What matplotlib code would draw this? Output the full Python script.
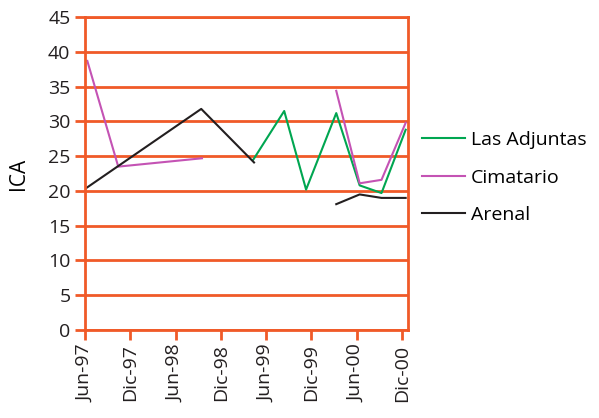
import numpy as np
import matplotlib
matplotlib.use("Agg")
import matplotlib.pyplot as plt

# ==========================================================
# DATA (x = months since Jun-97)
# ==========================================================

tick_months = [0, 6, 12, 18, 24, 30, 36, 42]
tick_labels = ["Jun-97", "Dic-97", "Jun-98", "Dic-98",
               "Jun-99", "Dic-99", "Jun-00", "Dic-00"]

adjuntas_x = [22.3, 26.4, 29.3, 33.3, 36.4, 39.3, 42.5]
adjuntas_y = [24.5, 31.5, 20.2, 31.2, 20.8, 19.7, 28.8]

cimatario_x = [0.3, 4.4, 15.5, np.nan, 33.3, 36.4, 39.3, 42.5]
cimatario_y = [38.7, 23.5, 24.7, np.nan, 34.4, 21.1, 21.6, 29.8]

arenal_x = [0, 15.4, 22.4, np.nan, 33.3, 36.4, 39.3, 42.5]
arenal_y = [20.3, 31.8, 24.1, np.nan, 18.1, 19.5, 19.0, 19.0]

ORANGE = "#F05A28"

# ==========================================================
# PLOT
# ==========================================================

plt.rcParams["font.family"] = ["Open Sans", "DejaVu Sans"]

fig = plt.figure(figsize=(5.99, 4.18), dpi=100)
ax = fig.add_axes([0.142, 0.2105, 0.539, 0.7485])

ax.plot(adjuntas_x, adjuntas_y, color="#00A651", linewidth=1.5,
        label="Las Adjuntas")
ax.plot(cimatario_x, cimatario_y, color="#C453B4", linewidth=1.5,
        label="Cimatario")
ax.plot(arenal_x, arenal_y, color="#231F20", linewidth=1.5,
        label="Arenal")

ax.set_xlim(0, 42.8)
ax.set_ylim(0, 45)
ax.set_yticks(range(0, 46, 5))
ax.set_xticks(tick_months)
ax.set_xticklabels(tick_labels, rotation=90)

ax.grid(axis="y", color=ORANGE, linewidth=2)
ax.set_axisbelow(True)

for side in ["left", "bottom", "right", "top"]:
    ax.spines[side].set_color(ORANGE)
    ax.spines[side].set_linewidth(2)

ax.tick_params(axis="both", colors=ORANGE, width=2, length=7,
               labelsize=14, labelcolor="#231F20")

ax.set_ylabel("ICA", fontsize=15, labelpad=14)

fig.legend(loc="center left", bbox_to_anchor=(0.692, 0.575),
           frameon=False, fontsize=14, handlelength=2.2,
           handletextpad=0.3, labelspacing=1.0, borderaxespad=0)

fig.savefig("out.png", dpi=100)
